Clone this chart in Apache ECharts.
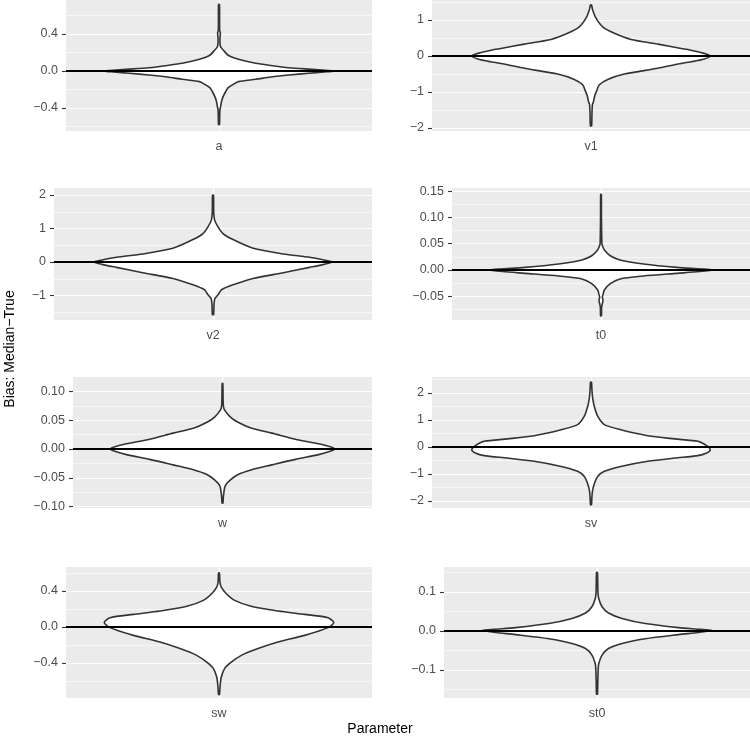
<!DOCTYPE html>
<html>
<head>
<meta charset="utf-8">
<title>Bias: Median-True by parameter</title>
<script src="https://cdn.jsdelivr.net/npm/echarts@6/dist/echarts.min.js"></script>
<style>
html, body { margin: 0; padding: 0; background: #fff; }
#chart { width: 750px; height: 738px; }
</style>
</head>
<body>
<div id="chart"></div>
<script>
// one panel per parameter
const PARAMS = ['a', 'v1', 'v2', 't0', 'w', 'sv', 'sw', 'st0'];

// y limits of each panel
const Y_MIN = [-0.649, -2.083, -1.731, -0.0952, -0.1026, -2.259, -0.789, -0.172];
const Y_MAX = [0.768, 1.556, 2.209, 0.156, 0.1252, 2.593, 0.667, 0.164];

// major breaks + labels, minor breaks
const MAJOR_TICKS = [
    [-0.4, 0, 0.4],
    [-2, -1, 0, 1],
    [-1, 0, 1, 2],
    [-0.05, 0, 0.05, 0.1, 0.15],
    [-0.1, -0.05, 0, 0.05, 0.1],
    [-2, -1, 0, 1, 2],
    [-0.4, 0, 0.4],
    [-0.1, 0, 0.1]
];
const MAJOR_LABELS = [
    ['\u22120.4', '0.0', '0.4'],
    ['\u22122', '\u22121', '0', '1'],
    ['\u22121', '0', '1', '2'],
    ['\u22120.05', '0.00', '0.05', '0.10', '0.15'],
    ['\u22120.10', '\u22120.05', '0.00', '0.05', '0.10'],
    ['\u22122', '\u22121', '0', '1', '2'],
    ['\u22120.4', '0.0', '0.4'],
    ['\u22120.1', '0.0', '0.1']
];
const MINOR_TICKS = [
    [-0.6, -0.2, 0.2, 0.6],
    [-1.5, -0.5, 0.5, 1.5],
    [-1.5, -0.5, 0.5, 1.5],
    [-0.075, -0.025, 0.025, 0.075, 0.125],
    [-0.075, -0.025, 0.025, 0.075],
    [-1.5, -0.5, 0.5, 1.5, 2.5],
    [-0.6, -0.2, 0.2, 0.6],
    [-0.15, -0.05, 0.05, 0.15]
];

// violin outlines, bottom to top: [bias, relative half width]
const VIOLIN_A = [[-0.58, 0.004], [-0.5, 0.006], [-0.42, 0.008], [-0.38, 0.015], [-0.33, 0.022],
    [-0.28, 0.035], [-0.23, 0.055], [-0.18, 0.08], [-0.14, 0.13], [-0.115, 0.17], [-0.09, 0.32],
    [-0.065, 0.45], [-0.043, 0.61], [-0.025, 0.78], [-0.01, 0.92], [0, 1.0], [0.01, 0.9],
    [0.02, 0.78], [0.036, 0.61], [0.06, 0.45], [0.083, 0.32], [0.126, 0.17], [0.17, 0.08],
    [0.23, 0.035], [0.25, 0.02], [0.28, 0.01], [0.35, 0.008], [0.41, 0.012], [0.44, 0.006],
    [0.55, 0.005], [0.72, 0.004]];
const VIOLIN_V1 = [[-1.94, 0.005], [-1.6, 0.008], [-1.35, 0.012], [-1.28, 0.02], [-1.2, 0.025],
    [-1.1, 0.032], [-0.99, 0.045], [-0.8, 0.07], [-0.65, 0.14], [-0.5, 0.28], [-0.34, 0.56],
    [-0.23, 0.72], [-0.16, 0.84], [-0.08, 0.95], [0, 1.0], [0.08, 0.94], [0.167, 0.83],
    [0.21, 0.756], [0.33, 0.56], [0.46, 0.336], [0.63, 0.196], [0.81, 0.098], [1.05, 0.042],
    [1.28, 0.014], [1.42, 0.004]];
const VIOLIN_V2 = [[-1.57, 0.005], [-1.3, 0.008], [-1.15, 0.012], [-1.08, 0.018], [-0.98, 0.042],
    [-0.83, 0.07], [-0.68, 0.168], [-0.49, 0.336], [-0.32, 0.59], [-0.16, 0.81], [-0.07, 0.93],
    [0, 1.0], [0.06, 0.93], [0.14, 0.81], [0.24, 0.59], [0.41, 0.336], [0.67, 0.168],
    [0.85, 0.084], [1.05, 0.042], [1.25, 0.014], [1.5, 0.006], [1.99, 0.004]];
const VIOLIN_T0 = [[-0.087, 0.004], [-0.07, 0.006], [-0.058, 0.018], [-0.052, 0.012], [-0.045, 0.02],
    [-0.038, 0.03], [-0.026, 0.083], [-0.017, 0.17], [-0.0115, 0.38], [-0.0064, 0.68],
    [-0.003, 0.88], [0, 1.0], [0.002, 0.9], [0.005, 0.68], [0.0115, 0.38], [0.019, 0.17],
    [0.027, 0.083], [0.038, 0.03], [0.045, 0.015], [0.05, 0.008], [0.1, 0.004], [0.144, 0.003]];
const VIOLIN_W = [[-0.094, 0.004], [-0.085, 0.007], [-0.076, 0.012], [-0.064, 0.024], [-0.054, 0.068],
    [-0.044, 0.143], [-0.036, 0.26], [-0.0276, 0.44], [-0.018, 0.65], [-0.0098, 0.857],
    [-0.004, 0.96], [0, 1.0], [0.004, 0.96], [0.0092, 0.857], [0.017, 0.65], [0.0276, 0.44],
    [0.036, 0.26], [0.046, 0.143], [0.056, 0.068], [0.068, 0.018], [0.075, 0.008], [0.09, 0.005],
    [0.114, 0.003]];
const VIOLIN_SV = [[-2.14, 0.004], [-1.9, 0.007], [-1.64, 0.012], [-1.36, 0.028], [-1.09, 0.056],
    [-0.9, 0.112], [-0.72, 0.25], [-0.53, 0.476], [-0.41, 0.7], [-0.32, 0.896], [-0.22, 0.97],
    [-0.1, 1.0], [0.05, 0.97], [0.21, 0.896], [0.3, 0.7], [0.42, 0.476], [0.64, 0.25],
    [0.83, 0.112], [1.14, 0.056], [1.5, 0.028], [1.81, 0.014], [2.1, 0.008], [2.4, 0.004]];
const VIOLIN_SW = [[-0.75, 0.004], [-0.65, 0.01], [-0.556, 0.02], [-0.46, 0.05], [-0.39, 0.107],
    [-0.315, 0.195], [-0.24, 0.34], [-0.167, 0.514], [-0.093, 0.746], [-0.007, 0.95], [0.05, 1.0],
    [0.104, 0.95], [0.14, 0.746], [0.178, 0.514], [0.23, 0.28], [0.296, 0.137], [0.37, 0.064],
    [0.444, 0.02], [0.5, 0.008], [0.6, 0.004]];
const VIOLIN_ST0 = [[-0.162, 0.004], [-0.13, 0.007], [-0.1, 0.01], [-0.084, 0.015], [-0.062, 0.044],
    [-0.045, 0.1], [-0.032, 0.218], [-0.02, 0.42], [-0.0094, 0.71], [-0.004, 0.88], [0.001, 1.0],
    [0.004, 0.9], [0.0085, 0.71], [0.019, 0.42], [0.032, 0.218], [0.046, 0.1], [0.062, 0.044],
    [0.083, 0.015], [0.1, 0.008], [0.15, 0.004]];
const VIOLINS = [VIOLIN_A, VIOLIN_V1, VIOLIN_V2, VIOLIN_T0, VIOLIN_W, VIOLIN_SV, VIOLIN_SW, VIOLIN_ST0];

const ZERO_LINE = 0;

// layout (px) of the 8 panels
const PANELS = [
    { left: 66, top: 0, width: 306, height: 131 },
    { left: 432, top: 0, width: 318, height: 131 },
    { left: 54, top: 188, width: 318, height: 132 },
    { left: 452, top: 188, width: 298, height: 132 },
    { left: 73, top: 377, width: 299, height: 131 },
    { left: 432, top: 377, width: 318, height: 131 },
    { left: 66, top: 567, width: 306, height: 131 },
    { left: 444, top: 567, width: 306, height: 131 }
];

const FONT = '"Liberation Sans", Arial, Helvetica, sans-serif';
const HALF_WIDTH = 0.45;   // violin width 0.9 on a discrete axis

function violinRenderer(shape) {
    return function (params, api) {
        const right = shape.map(p => api.coord([1 + HALF_WIDTH * p[1], p[0]]));
        const left = shape.slice().reverse().map(p => api.coord([1 - HALF_WIDTH * p[1], p[0]]));
        return {
            type: 'polygon',
            shape: { points: right.concat(left), smooth: 0.25 },
            style: { fill: '#ffffff', stroke: '#333333', lineWidth: 1.6 }
        };
    };
}

const grids = [], xAxes = [], yAxes = [], series = [];

PARAMS.forEach((name, i) => {
    grids.push(Object.assign({
        show: true,
        backgroundColor: '#EBEBEB',
        borderWidth: 0,
        containLabel: false
    }, PANELS[i]));

    xAxes.push({
        type: 'value',
        gridIndex: i,
        min: 0.4,
        max: 1.6,
        axisLine: { show: false },
        axisTick: {
            show: true, length: 4, customValues: [1],
            lineStyle: { color: '#333333', width: 1.1 }
        },
        axisLabel: {
            customValues: [1],
            formatter: () => name,
            color: '#4D4D4D', fontSize: 12.5, fontFamily: FONT, margin: 9
        },
        splitLine: { show: true, lineStyle: { color: '#ffffff', width: 1.2 } }
    });

    const majors = MAJOR_TICKS[i], labels = MAJOR_LABELS[i];
    // major breaks with labels
    yAxes.push({
        type: 'value',
        gridIndex: i,
        min: Y_MIN[i],
        max: Y_MAX[i],
        axisLine: { show: false },
        axisTick: {
            show: true, length: 4, customValues: majors,
            lineStyle: { color: '#333333', width: 1.1 }
        },
        axisLabel: {
            customValues: majors,
            formatter: function (v) {
                let best = 0;
                majors.forEach((m, k) => { if (Math.abs(m - v) < Math.abs(majors[best] - v)) best = k; });
                return labels[best];
            },
            color: '#4D4D4D', fontSize: 12.5, fontFamily: FONT, margin: 8
        },
        splitLine: { show: true, lineStyle: { color: '#ffffff', width: 1.2 } }
    });
    // minor breaks, grid lines only
    yAxes.push({
        type: 'value',
        gridIndex: i,
        position: 'left',
        min: Y_MIN[i],
        max: Y_MAX[i],
        axisLine: { show: false },
        axisTick: { show: false, customValues: MINOR_TICKS[i] },
        axisLabel: { show: false, customValues: MINOR_TICKS[i] },
        splitLine: { show: true, lineStyle: { color: '#ffffff', width: 0.6 } }
    });

    series.push({
        type: 'custom',
        name: name,
        xAxisIndex: i,
        yAxisIndex: 2 * i,
        z: 3,
        data: [[1, 0]],
        renderItem: violinRenderer(VIOLINS[i]),
        markLine: {
            silent: true,
            symbol: 'none',
            z: 5,
            label: { show: false },
            lineStyle: { color: '#000000', width: 2, type: 'solid' },
            data: [{ yAxis: ZERO_LINE }]
        }
    });
});

const chart = echarts.init(document.getElementById('chart'), null, { renderer: 'canvas' });

chart.setOption({
    animation: false,
    backgroundColor: '#ffffff',
    grid: grids,
    xAxis: xAxes,
    yAxis: yAxes,
    series: series,
    graphic: [
        {
            type: 'text',
            x: 10, y: 349,
            rotation: Math.PI / 2,
            style: {
                text: 'Bias: Median\u2212True',
                fill: '#000000', fontSize: 14, fontFamily: FONT,
                align: 'center', verticalAlign: 'middle'
            }
        },
        {
            type: 'text',
            x: 380, y: 729,
            style: {
                text: 'Parameter',
                fill: '#000000', fontSize: 14, fontFamily: FONT,
                align: 'center', verticalAlign: 'middle'
            }
        }
    ]
});
</script>
</body>
</html>
